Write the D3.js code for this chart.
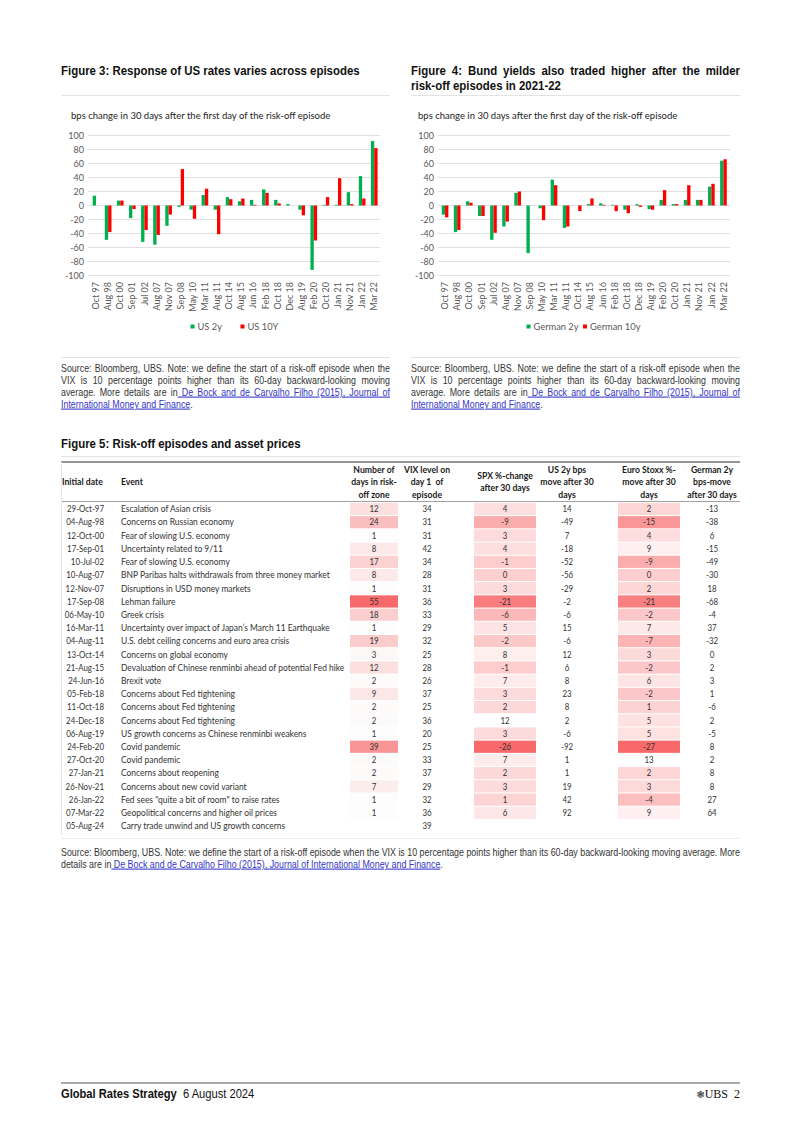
<!DOCTYPE html>
<html>
<head>
<meta charset="utf-8">
<script src="https://cdn.jsdelivr.net/npm/d3@7"></script>
<style>
  html, body { margin: 0; padding: 0; background: #fff; }
  svg { display: block; }
  text { white-space: pre; }
</style>
</head>
<body>
<script>
// ---------------- DATA ----------------
const categories = ["Oct 97","Aug 98","Oct 00","Sep 01","Jul 02","Aug 07","Nov 07","Sep 08","May 10","Mar 11","Aug 11","Oct 14","Aug 15","Jun 16","Feb 18","Oct 18","Dec 18","Aug 19","Feb 20","Oct 20","Jan 21","Nov 21","Jan 22","Mar 22"];
const us2y  = [14,-49,7,-18,-52,-56,-29,-2,-6,15,-6,12,6,8,23,8,2,-6,-92,1,1,19,42,92];
const us10y = [0,-38,7,-5,-35,-42,-13,52,-19,24,-41,9,10,1,18,3,0,-14,-50,12,39,2,10,82];
const de2y  = [-13,-38,6,-15,-49,-30,18,-68,-4,37,-32,0,2,3,1,-6,2,-5,8,2,8,8,27,64];
const de10y = [-17,-35,4,-15,-39,-23,20,0,-21,29,-30,-8,10,1,-8,-11,-2,-6,22,2,29,8,31,66];
const yTicks = [-100,-80,-60,-40,-20,0,20,40,60,80,100];

const tableDates  = ["29-Oct-97","04-Aug-98","12-Oct-00","17-Sep-01","10-Jul-02","10-Aug-07","12-Nov-07","17-Sep-08","06-May-10","16-Mar-11","04-Aug-11","13-Oct-14","21-Aug-15","24-Jun-16","05-Feb-18","11-Oct-18","24-Dec-18","06-Aug-19","24-Feb-20","27-Oct-20","27-Jan-21","26-Nov-21","26-Jan-22","07-Mar-22","05-Aug-24"];
const tableEvents = ["Escalation of Asian crisis","Concerns on Russian economy","Fear of slowing U.S. economy","Uncertainty related to 9/11","Fear of slowing U.S. economy","BNP Paribas halts withdrawals from three money market","Disruptions in USD money markets","Lehman failure","Greek crisis","Uncertainty over impact of Japan\u2019s March 11 Earthquake","U.S. debt ceiling concerns and euro area crisis","Concerns on global economy","Devaluation of Chinese renminbi ahead of potential Fed hike","Brexit vote","Concerns about Fed tightening","Concerns about Fed tightening","Concerns about Fed tightening","US growth concerns as Chinese renminbi weakens","Covid pandemic","Covid pandemic","Concerns about reopening","Concerns about new covid variant","Fed sees \"quite a bit of room\" to raise rates","Geopolitical concerns and higher oil prices","Carry trade unwind and US growth concerns"];
const daysRiskOff = [12,24,1,8,17,8,1,55,18,1,19,3,12,2,9,2,2,1,39,2,2,7,1,1,null];
const vixDay1     = [34,31,31,42,34,28,31,36,33,29,32,25,28,26,37,25,36,20,25,33,37,29,32,36,39];
const spxChange   = [4,-9,3,4,-1,0,3,-21,-6,5,-2,8,-1,7,3,2,12,3,-26,7,2,3,1,6,null];
const us2yMove    = [14,-49,7,-18,-52,-56,-29,-2,-6,15,-6,12,6,8,23,8,2,-6,-92,1,1,19,42,92,null];
const euroStoxx   = [2,-15,4,9,-9,0,2,-21,-2,7,-7,3,-2,6,-2,1,5,5,-27,13,2,3,-4,9,null];
const de2yMove    = [-13,-38,6,-15,-49,-30,18,-68,-4,37,-32,0,2,3,1,-6,2,-5,8,2,8,8,27,64,null];

// ---------------- STYLE ----------------
const GREEN = "#00b050", RED = "#ff0000", HEAT = "#f8696b", LINK = "#3535c8";
const SANS = "'Liberation Sans', Arial, sans-serif";
const CAL = "Lato, 'Open Sans', sans-serif";

const svg = d3.select("body").append("svg").attr("width", 802).attr("height", 1134);
svg.append("rect").attr("width", 802).attr("height", 1134).attr("fill", "#fff");

function hline(x1, x2, y, color, w) {
  svg.append("line").attr("x1", x1).attr("x2", x2).attr("y1", y).attr("y2", y)
    .attr("stroke", color).attr("stroke-width", w);
}
function measure(str, family, size, weight) {
  const t = svg.append("text").attr("font-family", family).attr("font-size", size)
    .attr("font-weight", weight || "normal").text(str);
  const L = t.node().getComputedTextLength();
  t.remove();
  return L;
}
function ctext(parent, x, y, family, size, weight, sc) {
  return parent.append("text").attr("transform", `translate(${x},${y}) scale(${sc},1)`)
    .attr("font-family", family).attr("font-size", size).attr("font-weight", weight || "normal");
}
function justify(sel, width) {
  const node = sel.node();
  const L = node.getComputedTextLength();
  const n = (node.textContent.match(/ /g) || []).length;
  if (n > 0) sel.attr("word-spacing", (width - L) / n);
}
function para(x, width, y0, lh, lines, size, sc) {
  lines.forEach((ln, i) => {
    const t = ctext(svg, x, y0 + i * lh, SANS, size, "normal", sc).attr("fill", "#333");
    ln.parts.forEach(p => {
      const ts = t.append("tspan").text(p.t);
      if (p.link) ts.attr("fill", LINK).attr("text-decoration", "underline");
    });
    if (ln.justify) justify(t, width / sc);
  });
}

// ---------------- TITLES ----------------
const TSIZE = 13;
const title3 = "Figure 3: Response of US rates varies across episodes";
const tsc = 299 / measure(title3, SANS, TSIZE, "bold");
ctext(svg, 61, 75, SANS, TSIZE, "bold", tsc).attr("fill", "#111").text(title3);
const t4a = ctext(svg, 411, 75, SANS, TSIZE, "bold", tsc).attr("fill", "#111")
  .text("Figure 4: Bund yields also traded higher after the milder");
justify(t4a, 329 / tsc);
ctext(svg, 411, 90, SANS, TSIZE, "bold", tsc).attr("fill", "#111").text("risk-off episodes in 2021-22");
hline(61, 390, 95.5, "#e3e3e3", 1);
hline(411, 740, 95.5, "#e3e3e3", 1);

// ---------------- BAR CHARTS ----------------
function barChart(o) {
  const g = svg.append("g");
  const y = d3.scaleLinear().domain([-100, 100]).range([275.5, 135.5]);
  const x = d3.scaleBand().domain(categories).range(o.band).paddingInner(0.45).paddingOuter(0.225);
  const xs = d3.scaleBand().domain([0, 1]).range([0, x.bandwidth()]);

  g.append("text").attr("x", o.subX).attr("y", 119).attr("font-family", CAL).attr("font-size", 9.5)
    .attr("fill", "#222").text("bps change in 30 days after the first day of the risk-off episode");

  g.selectAll(".grid").data(yTicks).join("line")
    .attr("x1", o.grid[0]).attr("x2", o.grid[1])
    .attr("y1", d => y(d)).attr("y2", d => y(d))
    .attr("stroke", "#d9d9d9").attr("stroke-width", 0.8);
  g.selectAll(".yl").data(yTicks).join("text")
    .attr("x", o.labelX).attr("y", d => y(d)).attr("dy", "0.35em").attr("text-anchor", "end")
    .attr("font-family", CAL).attr("font-size", 9).attr("fill", "#595959").text(d => d);

  const series = [o.s1, o.s2];
  const colors = [GREEN, RED];
  series.forEach((s, si) => {
    g.selectAll(".b" + si).data(s).join("rect")
      .attr("x", (d, i) => x(categories[i]) + xs(si))
      .attr("width", xs.bandwidth())
      .attr("y", d => y(Math.max(0, d)))
      .attr("height", d => Math.abs(y(d) - y(0)))
      .attr("fill", colors[si]);
  });

  g.selectAll(".xl").data(categories).join("text")
    .attr("transform", d => `translate(${x(d) + x.bandwidth() / 2},282) rotate(-90)`)
    .attr("dy", "0.35em").attr("text-anchor", "end")
    .attr("font-family", CAL).attr("font-size", 9).attr("fill", "#595959").text(d => d);

  o.legend.forEach((l, i) => {
    g.append("rect").attr("x", l.x).attr("y", 324.5).attr("width", 4).attr("height", 4).attr("fill", colors[i]);
    g.append("text").attr("x", l.x + 7).attr("y", 330).attr("font-family", CAL).attr("font-size", 9.3)
      .attr("fill", "#595959").text(l.t);
  });
}
barChart({ band: [90, 380.3], grid: [88, 380], labelX: 84, subX: 71, s1: us2y, s2: us10y,
  legend: [{ x: 190.5, t: "US 2y" }, { x: 240.5, t: "US 10Y" }] });
barChart({ band: [439, 729.5], grid: [438, 730], labelX: 434, subX: 418, s1: de2y, s2: de10y,
  legend: [{ x: 526.5, t: "German 2y" }, { x: 583, t: "German 10y" }] });

// ---------------- SOURCES ----------------
const SSIZE = 10.5;
const refLine = "details are in De Bock and de Carvalho Filho (2015), Journal of International Money and Finance.";
const ssc = 382 / measure(refLine, SANS, SSIZE);

hline(61, 390, 357.5, "#e3e3e3", 1);
hline(411, 740, 357.5, "#e3e3e3", 1);
function srcLines() {
  return [
    { justify: true, parts: [{ t: "Source: Bloomberg, UBS. Note: we define the start of a risk-off episode when the" }] },
    { justify: true, parts: [{ t: "VIX is 10 percentage points higher than its 60-day backward-looking moving" }] },
    { justify: true, parts: [{ t: "average. More details are in" }, { t: " De Bock and de Carvalho Filho (2015), Journal of", link: true }] },
    { justify: false, parts: [{ t: "International Money and Finance", link: true }, { t: "." }] }
  ];
}
para(61, 329, 371.5, 12, srcLines(), SSIZE, ssc);
para(411, 329, 371.5, 12, srcLines(), SSIZE, ssc);

// ---------------- FIGURE 5 TABLE ----------------
ctext(svg, 61, 448, SANS, TSIZE, "bold", tsc).attr("fill", "#111").text("Figure 5: Risk-off episodes and asset prices");
hline(61, 740, 456.5, "#e3e3e3", 1);
hline(61, 740, 462, "#6f6f6f", 1.5);

const headers = [
  { x: 62, anchor: "start", lines: ["Initial date"], y0: 485 },
  { x: 121, anchor: "start", lines: ["Event"], y0: 485 },
  { x: 374, anchor: "middle", lines: ["Number of", "days in risk-", "off zone"], y0: 473 },
  { x: 427, anchor: "middle", lines: ["VIX level on", "day 1  of", "episode"], y0: 473 },
  { x: 505, anchor: "middle", lines: ["SPX %-change", "after 30 days"], y0: 479 },
  { x: 567, anchor: "middle", lines: ["US 2y bps", "move after 30", "days"], y0: 473 },
  { x: 649, anchor: "middle", lines: ["Euro Stoxx %-", "move after 30", "days"], y0: 473 },
  { x: 712, anchor: "middle", lines: ["German 2y", "bps-move", "after 30 days"], y0: 473 }
];
headers.forEach(h => {
  h.lines.forEach((l, i) => {
    ctext(svg, h.x, h.y0 + i * 12.4, CAL, 9.3, "bold", 0.93).attr("text-anchor", h.anchor)
      .attr("fill", "#1a1a1a").text(l);
  });
});
hline(61, 740, 501.5, "#8a8a8a", 0.8);

const rowY = d3.scaleLinear().domain([0, tableDates.length - 1]).range([509, 826]);
const rowH = 13.2;
const heatDays = d3.scaleLinear().domain(d3.extent(daysRiskOff.filter(v => v != null))).range(["#fdfdfd", HEAT]);
const heatSpx = d3.scaleLinear().domain([d3.max(spxChange), d3.min(spxChange.filter(v => v != null))]).range(["#ffffff", HEAT]);
const heatEuro = d3.scaleLinear().domain([d3.max(euroStoxx), d3.min(euroStoxx.filter(v => v != null))]).range(["#ffffff", HEAT]);

const cols = [
  { vals: daysRiskOff, x: 374, cell: [350, 398], heat: heatDays },
  { vals: vixDay1, x: 427 },
  { vals: spxChange, x: 505, cell: [474, 536], heat: heatSpx },
  { vals: us2yMove, x: 567 },
  { vals: euroStoxx, x: 649, cell: [618, 680], heat: heatEuro },
  { vals: de2yMove, x: 712 }
];
const TFS = 9.3;
const tg = svg.append("g");
const dsc = 37 / measure("29-Oct-97", CAL, TFS);
const esc = 209 / measure("Uncertainty over impact of Japan\u2019s March 11 Earthquake", CAL, TFS);
cols.forEach(c => {
  const rows = c.vals.map((v, i) => ({ v, i })).filter(d => d.v != null);
  if (c.cell) {
    tg.selectAll(null).data(rows).join("rect")
      .attr("x", c.cell[0]).attr("width", c.cell[1] - c.cell[0])
      .attr("y", d => rowY(d.i) - rowH / 2 + 0.5).attr("height", rowH - 1)
      .attr("fill", d => c.heat(d.v));
  }
  tg.selectAll(null).data(rows).join("text")
    .attr("transform", d => `translate(${c.x},${rowY(d.i)}) scale(${dsc},1)`)
    .attr("dy", "0.35em").attr("text-anchor", "middle")
    .attr("font-family", CAL).attr("font-size", TFS).attr("fill", "#333").text(d => d.v);
});
tg.selectAll(null).data(tableDates).join("text")
  .attr("transform", (d, i) => `translate(104,${rowY(i)}) scale(${dsc},1)`)
  .attr("dy", "0.35em").attr("text-anchor", "end")
  .attr("font-family", CAL).attr("font-size", TFS).attr("fill", "#333").text(d => d);
tg.selectAll(null).data(tableEvents).join("text")
  .attr("transform", (d, i) => `translate(121,${rowY(i)}) scale(${esc},1)`)
  .attr("dy", "0.35em")
  .attr("font-family", CAL).attr("font-size", TFS).attr("fill", "#333").text(d => d);

svg.append("line").attr("x1", 61.5).attr("x2", 61.5).attr("y1", 462).attr("y2", 835)
  .attr("stroke", "#e8e8e8").attr("stroke-width", 1);
hline(61, 740, 838.5, "#ececec", 1);

para(61, 679, 855.5, 12, [
  { justify: true, parts: [{ t: "Source: Bloomberg, UBS. Note: we define the start of a risk-off episode when the VIX is 10 percentage points higher than its 60-day backward-looking moving average. More" }] },
  { justify: false, parts: [{ t: "details are in" }, { t: " De Bock and de Carvalho Filho (2015), Journal of International Money and Finance", link: true }, { t: "." }] }
], SSIZE, ssc);

// ---------------- FOOTER ----------------
hline(61, 740, 1083, "#555", 1);
const fsc = 116 / measure("Global Rates Strategy", SANS, 12.5, "bold");
ctext(svg, 61, 1098, SANS, 12.5, "bold", fsc).attr("fill", "#111").text("Global Rates Strategy");
ctext(svg, 183, 1098, SANS, 12.5, "normal", fsc).attr("fill", "#111").text("6 August 2024");
const fr = svg.append("text").attr("x", 740).attr("y", 1098).attr("text-anchor", "end").attr("fill", "#111");
fr.append("tspan").attr("font-family", "DejaVu Sans").attr("font-size", 10).attr("fill", "#444").text("\u2743");
fr.append("tspan").attr("font-family", "'Liberation Serif',serif").attr("font-size", 12).text("UBS  2");
</script>
</body>
</html>
